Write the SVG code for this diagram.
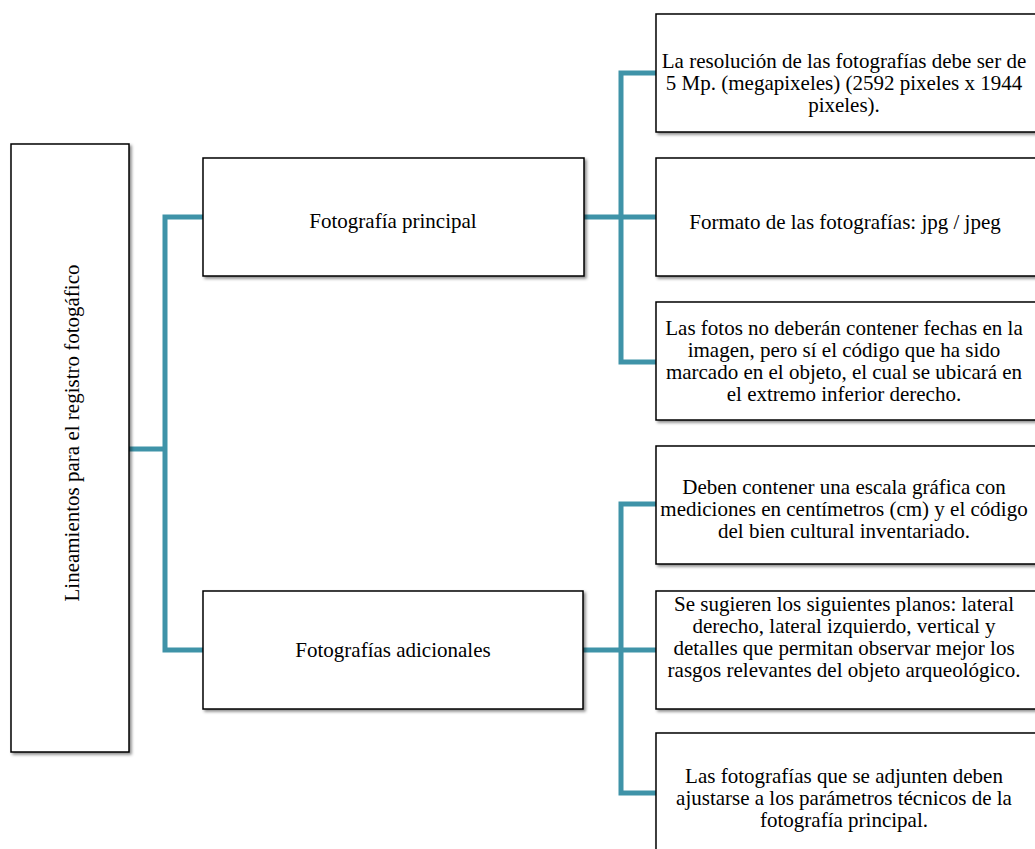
<svg xmlns="http://www.w3.org/2000/svg" width="1035" height="849" viewBox="0 0 1035 849">
<defs>
<filter id="sh" x="-5%" y="-5%" width="115%" height="115%">
<feDropShadow dx="2" dy="2" stdDeviation="1.5" flood-color="#000" flood-opacity="0.45"/>
</filter>
<style>
.box{fill:#fff;stroke:#000;stroke-width:1.5;filter:url(#sh)}
.t{font-family:"Liberation Serif","Times New Roman",serif;font-size:21px;fill:#000;text-anchor:middle}
.c{fill:none;stroke:#3f93a8;stroke-width:5;stroke-linejoin:miter}
</style>
</defs>
<rect width="1035" height="849" fill="#fff"/>
<g id="connectors">
<path class="c" d="M129 449 H165 M203 217 H165 V650 H203"/>
<path class="c" d="M584 217 H656 M656 73 H621 V362 H656"/>
<path class="c" d="M583 650 H656 M656 504 H621 V793 H656"/>
</g>
<g id="root">
<rect class="box" x="11" y="144" width="118" height="608"/>
<text class="t" transform="translate(79 433) rotate(-90)">Lineamientos para el registro fotogáfico</text>
</g>
<g id="principal">
<rect class="box" x="203" y="158" width="381" height="118"/>
<text class="t" x="393" y="228">Fotografía principal</text>
</g>
<g id="adicionales">
<rect class="box" x="203" y="591" width="380" height="118"/>
<text class="t" x="393" y="657">Fotografías adicionales</text>
</g>
<g id="n1">
<rect class="box" x="656" y="14" width="390" height="118"/>
<text class="t"><tspan x="844" y="68">La resolución de las fotografías debe ser de</tspan><tspan x="844" y="90">5 Mp. (megapixeles) (2592 pixeles x 1944</tspan><tspan x="844" y="112">pixeles).</tspan></text>
</g>
<g id="n2">
<rect class="box" x="656" y="158" width="390" height="118"/>
<text class="t" x="845" y="229">Formato de las fotografías: jpg / jpeg</text>
</g>
<g id="n3">
<rect class="box" x="656" y="302" width="390" height="118"/>
<text class="t"><tspan x="844" y="335">Las fotos no deberán contener fechas en la</tspan><tspan x="844" y="357">imagen, pero sí el código que ha sido</tspan><tspan x="844" y="379">marcado en el objeto, el cual se ubicará en</tspan><tspan x="844" y="401">el extremo inferior derecho.</tspan></text>
</g>
<g id="n4">
<rect class="box" x="656" y="446" width="390" height="118"/>
<text class="t"><tspan x="844" y="494">Deben contener una escala gráfica con</tspan><tspan x="844" y="516">mediciones en centímetros (cm) y el código</tspan><tspan x="844" y="538">del bien cultural inventariado.</tspan></text>
</g>
<g id="n5">
<rect class="box" x="656" y="591" width="390" height="118"/>
<text class="t"><tspan x="844" y="611">Se sugieren los siguientes planos: lateral</tspan><tspan x="844" y="633">derecho, lateral izquierdo, vertical y</tspan><tspan x="844" y="655">detalles que permitan observar mejor los</tspan><tspan x="844" y="677">rasgos relevantes del objeto arqueológico.</tspan></text>
</g>
<g id="n6">
<rect class="box" x="656" y="733" width="390" height="130"/>
<text class="t"><tspan x="844" y="783">Las fotografías que se adjunten deben</tspan><tspan x="844" y="805">ajustarse a los parámetros técnicos de la</tspan><tspan x="844" y="827">fotografía principal.</tspan></text>
</g>
</svg>
